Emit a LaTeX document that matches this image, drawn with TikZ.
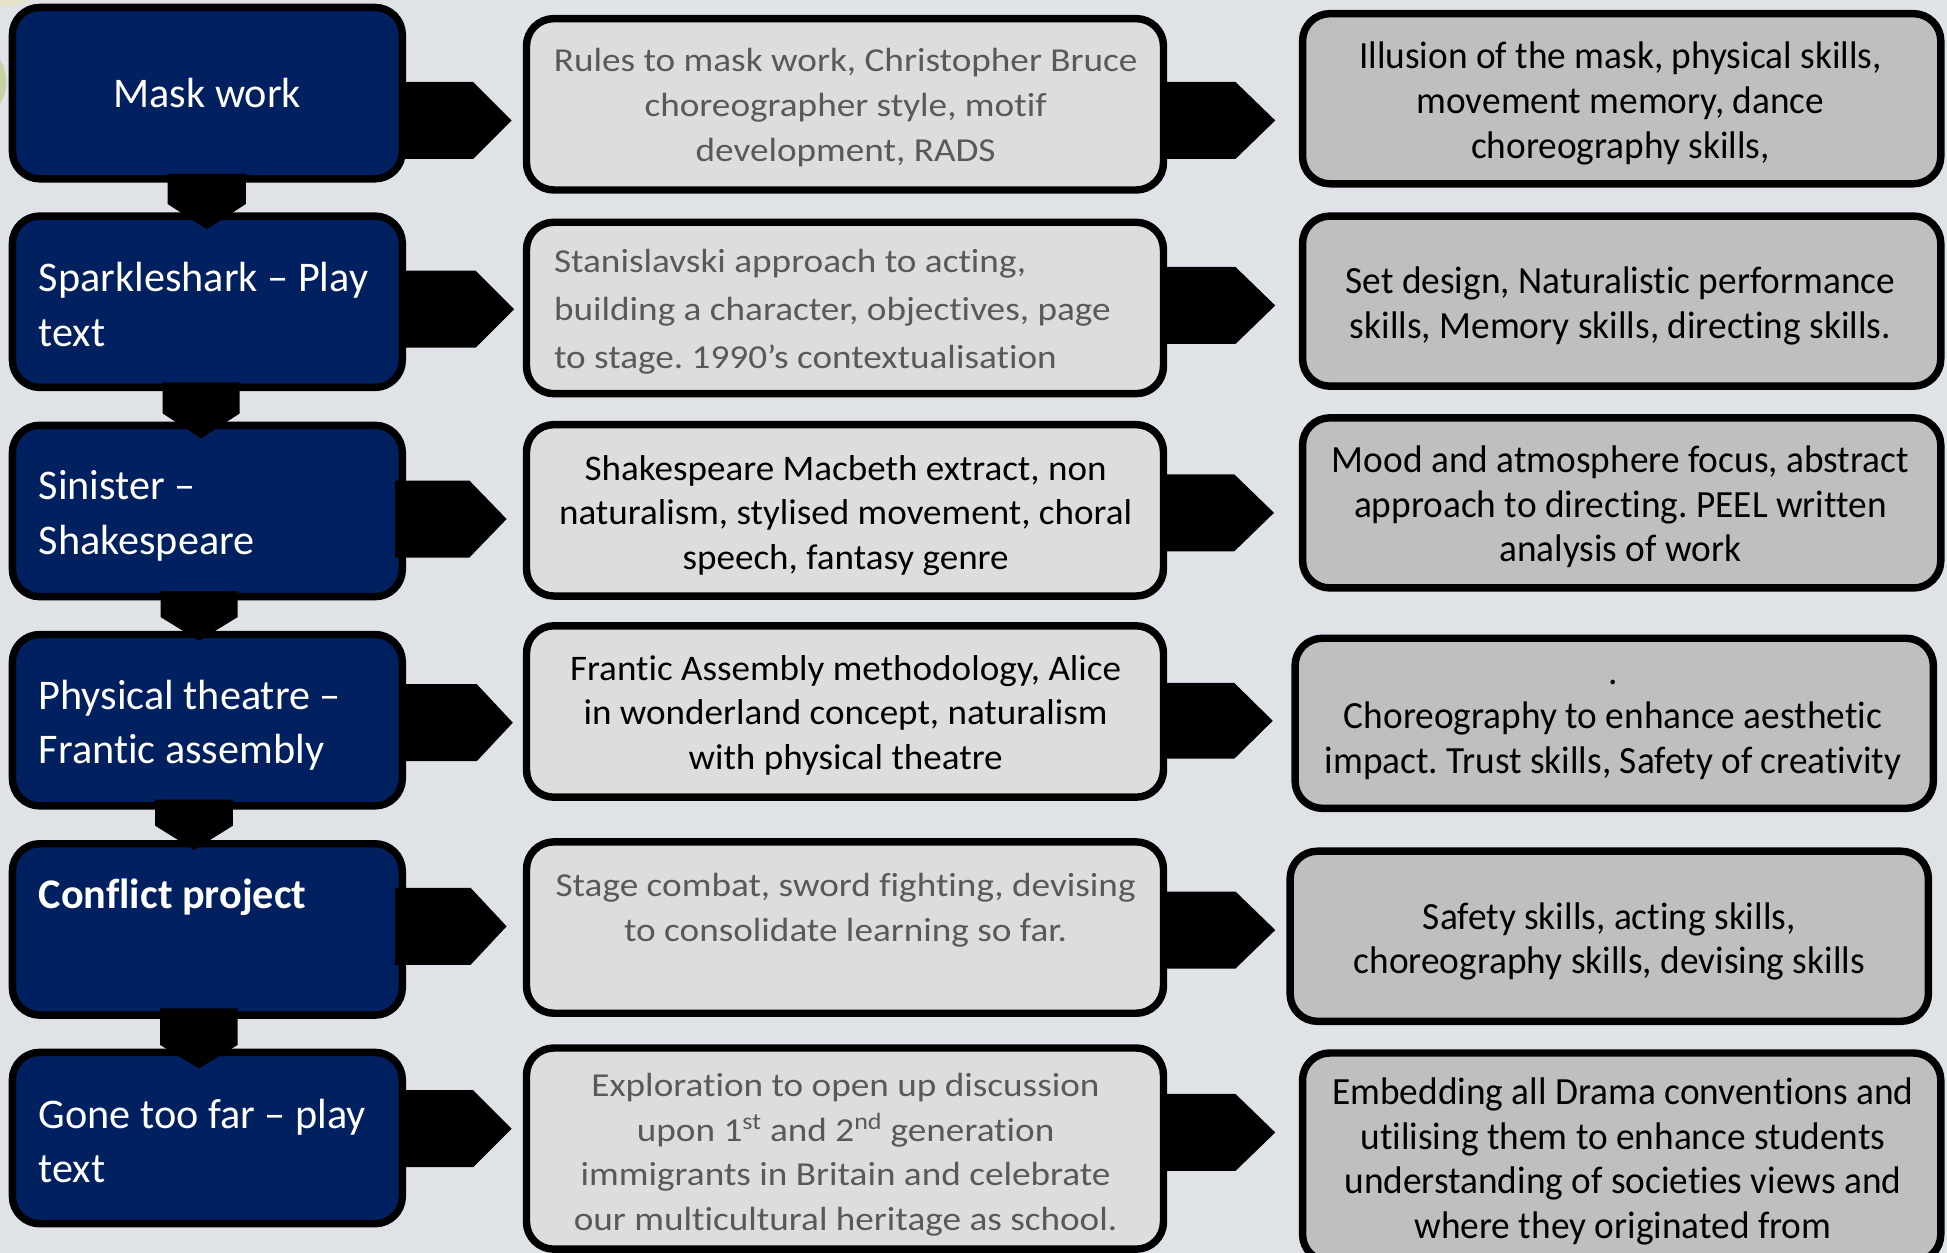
\documentclass[tikz,border=0pt]{standalone}
\usepackage{fontspec}
\setmainfont[Ligatures=NoCommon]{Carlito}
\newfontfamily\lfont[Ligatures=NoCommon]{Carlito}
\newfontfamily\gfont[Ligatures=NoCommon,FakeStretch=1.11]{Carlito}
\newfontfamily\mfont[Ligatures=NoCommon,FakeStretch=1.03]{Carlito}
\newfontfamily\rfont[Ligatures=NoCommon,FakeStretch=0.97]{Carlito}
\frenchspacing
\definecolor{bg}{HTML}{DFE3E7}
\definecolor{navy}{HTML}{002060}
\definecolor{midgrey}{HTML}{DDDDDD}
\definecolor{rgrey}{HTML}{BFBFBF}
\definecolor{gtext}{HTML}{595959}
\definecolor{dyellow}{HTML}{E4E3C6}
\definecolor{dgreen}{HTML}{C6D1A4}
\tikzset{
  box/.style={draw=black, line width=6pt, rounded corners=22pt, inner sep=0pt},
  leftbox/.style={box, fill=navy, minimum width=314pt, minimum height=138pt},
  midbox/.style={box, fill=midgrey, minimum width=513pt, minimum height=138pt},
  rightbox/.style={box, fill=rgrey, minimum width=514pt, minimum height=137pt},
  txt/.style={inner sep=0pt, yshift=-6pt, execute at begin node=\strut, execute at end node=\strut},
  lt/.style={txt, text=white, align=left, anchor=west, font=\lfont\fontsize{34}{44}\selectfont},
  gt/.style={txt, text=gtext, align=center, font=\gfont\fontsize{27}{36}\selectfont},
  mt/.style={txt, text=black, align=center, font=\mfont\fontsize{29}{36}\selectfont},
  rt/.style={txt, text=black, align=center, font=\rfont\fontsize{31}{36}\selectfont},
}
\newcommand\rarrow[5]{\fill[black] (#1,#4) -- (#2,#4) -- (#3,{(#4+#5)/2}) -- (#2,#5) -- (#1,#5) -- cycle;}
\newcommand\darrow[5]{\fill[black] (#1,#3) -- (#2,#3) -- (#2,#4) -- ({(#1+#2)/2},#5) -- (#1,#4) -- cycle;}
\begin{document}
\begin{tikzpicture}[x=1pt,y=-1pt]
\useasboundingbox (0,0) rectangle (1568,1009);
\fill[bg] (0,0) rectangle (1568,1009);
\clip (0,0) rectangle (1568,1009);
% faint decorative circles
\fill[dyellow] (4,-30) circle (35);
\fill[dgreen] (-30,66) circle (35);

% left column
\node[leftbox] (L1) at (167,75) {};
\node[leftbox] (L2) at (167,243) {};
\node[leftbox] (L3) at (167,411.5) {};
\node[leftbox] (L4) at (167,580) {};
\node[leftbox] (L5) at (167,748.5) {};
\node[leftbox] (L6) at (167,916.5) {};

% middle column
\node[midbox] (M1) at (680.5,84) {};
\node[midbox] (M2) at (680.5,248) {};
\node[midbox] (M3) at (680.5,411) {};
\node[midbox] (M4) at (680.5,573) {};
\node[midbox] (M5) at (680.5,747) {};
\node[midbox, minimum height=162pt] (M6) at (680.5,925) {};

% right column
\node[rightbox] (R1) at (1306,79.5) {};
\node[rightbox] (R2) at (1306,242.5) {};
\node[rightbox] (R3) at (1306,405) {};
\node[rightbox] (R4) at (1300,582.5) {};
\node[rightbox] (R5) at (1296,754) {};
\node[rightbox, minimum height=168pt] (R6) at (1306,932) {};

% down connectors (left column)
\darrow{135}{198}{140}{164.3}{184.7}
\darrow{131}{193}{308}{333}{353}
\darrow{129.4}{191.3}{476}{497}{516}
\darrow{125}{187.5}{644}{665}{684.5}
\darrow{129}{191.3}{812}{841.6}{860.4}

% left -> middle
\rarrow{322}{381}{412}{66}{128}
\rarrow{322}{383}{414}{218}{280}
\rarrow{318}{378}{408}{387}{449}
\rarrow{322}{384}{413}{551}{613}
\rarrow{318}{379}{408}{715}{777}
\rarrow{322}{381}{412}{878}{940}

% middle -> right
\rarrow{935}{995}{1027}{66}{128}
\rarrow{935}{995}{1027}{215}{277}
\rarrow{935}{994}{1026}{382}{444}
\rarrow{935}{994}{1025}{550}{611}
\rarrow{935}{995}{1027}{718}{780}
\rarrow{935}{995}{1027}{881}{943}

% left texts
\node[lt, anchor=center, align=center] (tL1) at (167,72) {Mask work};
\node[lt] (tL2) at (31,245.5) {Sparkleshark – Play\\text};
\node[lt] (tL3) at (31,413.5) {Sinister –\\Shakespeare};
\node[lt] (tL4) at (31,582) {Physical theatre –\\Frantic assembly};
\node[lt] (tL5) at (31,717) {\bfseries Conflict project};
\node[lt] (tL6) at (31,919.5) {Gone too far – play\\text};

% middle texts
\node[gt] (tM1) at (681,84) {Rules to mask work, Christopher Bruce\\choreographer style, motif\\development, RADS};
\node[gt, align=left, anchor=west, font=\gfont\fontsize{27}{38.5}\selectfont] (tM2) at (446,248.5) {Stanislavski approach to acting,\\building a character, objectives, page\\to stage. 1990’s contextualisation};
\node[mt] (tM3) at (681,412) {Shakespeare Macbeth extract, non\\naturalism, stylised movement, choral\\speech, fantasy genre};
\node[mt] (tM4) at (681,573) {Frantic Assembly methodology, Alice\\in wonderland concept, naturalism\\with physical theatre};
\node[gt] (tM5) at (681,730) {Stage combat, sword fighting, devising\\to consolidate learning so far.};
\node[gt] (tM6) at (681,927) {Exploration to open up discussion\\upon 1\textsuperscript{st} and 2\textsuperscript{nd} generation\\immigrants in Britain and celebrate\\our multicultural heritage as school.};

% right texts
\node[rt] (tR1) at (1305,80) {Illusion of the mask, physical skills,\\movement memory, dance\\choreography skills,};
\node[rt] (tR2) at (1305,243) {Set design, Naturalistic performance\\skills, Memory skills, directing skills.};
\node[rt] (tR3) at (1305,405) {Mood and atmosphere focus, abstract\\approach to directing. PEEL written\\analysis of work};
\node[rt] (tR4) at (1299,584.5) {.\\Choreography to enhance aesthetic\\impact. Trust skills, Safety of creativity};
\node[rt] (tR5) at (1296,755) {Safety skills, acting skills,\\choreography skills, devising skills};
\node[rt] (tR6) at (1307,932) {Embedding all Drama conventions and\\utilising them to enhance students\\understanding of societies views and\\where they originated from};
\end{tikzpicture}
\end{document}
